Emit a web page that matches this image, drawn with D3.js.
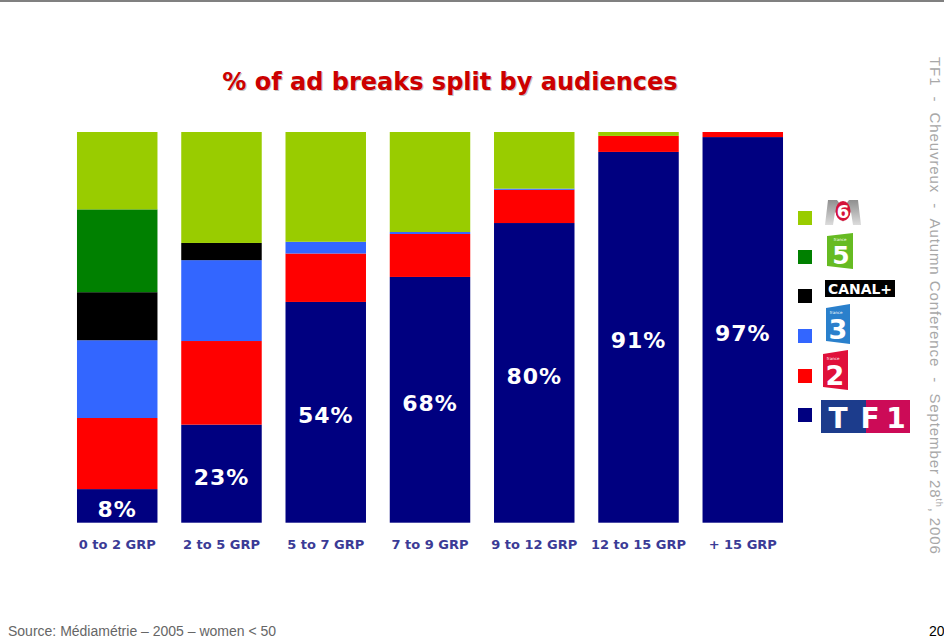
<!DOCTYPE html>
<html>
<head>
<meta charset="utf-8">
<script src="https://cdn.jsdelivr.net/npm/d3@7"></script>
<style>
  html, body { margin: 0; padding: 0; background: #fff; }
  svg { display: block; }
  text { white-space: pre; }
</style>
</head>
<body>
<svg id="chart" width="944" height="639"></svg>
<script>
// ---------- data ----------
const categories = ["0 to 2 GRP", "2 to 5 GRP", "5 to 7 GRP", "7 to 9 GRP", "9 to 12 GRP", "12 to 15 GRP", "+ 15 GRP"];
const tf1       = [8.6, 25.1, 56.5, 62.9, 76.7, 94.9, 98.7];
const france2   = [18.2, 21.4, 12.4, 11.0, 8.5, 4.1, 1.3];
const france3   = [19.9, 20.7, 3.0, 0.5, 0.3, 0, 0];
const canalPlus = [12.3, 4.4, 0, 0, 0, 0, 0];
const france5   = [21.2, 0, 0, 0, 0, 0, 0];
const m6        = [19.8, 28.4, 28.1, 25.6, 14.5, 1.0, 0];
const tf1Labels = ["8%", "23%", "54%", "68%", "80%", "91%", "97%"];
const seriesNames = ["TF1", "France 2", "France 3", "Canal+", "France 5", "M6"];
const seriesColors = ["#000080", "#ff0000", "#3366ff", "#000000", "#008000", "#99cc00"];
const title = "% of ad breaks split by audiences";
const sourceText = "Source: Médiamétrie – 2005 – women < 50";

// ---------- setup ----------
const svg = d3.select("#chart");
const seriesValues = [tf1, france2, france3, canalPlus, france5, m6];
const rows = categories.map((c, i) => {
  const r = { cat: c };
  seriesNames.forEach((s, k) => r[s] = seriesValues[k][i]);
  return r;
});
const stack = d3.stack().keys(seriesNames)(rows);

const x = d3.scaleBand().domain(categories).range([65.1, 794.9]).paddingInner(0.228).paddingOuter(0.114);
const y = d3.scaleLinear().domain([0, 100]).range([522.7, 132]);
const color = d3.scaleOrdinal().domain(seriesNames).range(seriesColors);

// top border
svg.append("rect").attr("x", 0).attr("y", 0).attr("width", 944).attr("height", 2).attr("fill", "#808080");

// title with shadow
const tt = svg.append("g").attr("font-family", "DejaVu Sans, Verdana, sans-serif").attr("font-weight", "bold")
  .attr("font-size", 24).attr("text-anchor", "middle");
tt.append("text").attr("x", 451).attr("y", 91).attr("fill", "#c4c4c4").text(title);
tt.append("text").attr("x", 450).attr("y", 90).attr("fill", "#cc0000").text(title);

// bars
const layers = svg.append("g").selectAll("g").data(stack).join("g")
  .attr("fill", d => color(d.key));
layers.selectAll("rect").data(d => d).join("rect")
  .attr("x", d => x(d.data.cat))
  .attr("width", x.bandwidth())
  .attr("y", d => y(d[1]))
  .attr("height", d => Math.max(0, y(d[0]) - y(d[1])));

// TF1 labels
svg.append("g").selectAll("text").data(stack[0]).join("text")
  .attr("x", d => x(d.data.cat) + x.bandwidth() / 2)
  .attr("y", d => (y(d[0]) + y(d[1])) / 2 + 3)
  .attr("dy", "0.36em")
  .attr("text-anchor", "middle")
  .attr("font-family", "DejaVu Sans, Verdana, sans-serif")
  .attr("font-weight", "bold").attr("font-size", 22).attr("letter-spacing", 1)
  .attr("fill", "#ffffff")
  .text((d, i) => tf1Labels[i]);

// category axis
const xAxis = svg.append("g").attr("transform", "translate(0,535)")
  .call(d3.axisBottom(x).tickSize(0).tickPadding(0));
xAxis.select(".domain").remove();
xAxis.selectAll("text")
  .attr("dy", "1.05em")
  .attr("font-family", "DejaVu Sans, Verdana, sans-serif")
  .attr("font-weight", "bold").attr("font-size", 13)
  .attr("fill", "#3b3b96");

// legend
const legY = [211, 250, 289, 329, 369, 408];
const leg = svg.append("g");
const legOrder = seriesNames.slice().reverse(); // M6 top ... TF1 bottom
legOrder.forEach((s, i) => {
  leg.append("rect").attr("x", 798).attr("y", legY[i]).attr("width", 14).attr("height", 14).attr("fill", color(s));
});

// --- logos ---
const logos = svg.append("g").attr("font-family", "DejaVu Sans, Verdana, sans-serif").attr("font-weight", "bold");
// M6
const mg = svg.append("defs").append("linearGradient").attr("id", "mgrad").attr("x1", 0).attr("y1", 0).attr("x2", 0).attr("y2", 1);
mg.append("stop").attr("offset", 0).attr("stop-color", "#8f8f8f");
mg.append("stop").attr("offset", 1).attr("stop-color", "#dcdcdc");
logos.append("path").attr("d", "M825,225 L828,200 L837,200 L843,208 L849,200 L858,200 L861,225 L853,225 L851,212 L843,222 L835,212 L833,225 Z")
  .attr("fill", "url(#mgrad)");
logos.append("ellipse").attr("cx", 843).attr("cy", 211).attr("rx", 7.5).attr("ry", 10).attr("fill", "#d4143a");
logos.append("text").attr("x", 843).attr("y", 218).attr("text-anchor", "middle").attr("font-size", 18).attr("fill", "#fff").text("6");
// France 5
logos.append("path").attr("d", "M827,236 L853,233 L853,269 L827,266 Z").attr("fill", "#66bb22");
logos.append("text").attr("x", 841).attr("y", 264).attr("text-anchor", "middle").attr("font-size", 25).attr("fill", "#fff").text("5");
logos.append("text").attr("x", 840).attr("y", 241).attr("text-anchor", "middle").attr("font-size", 4).attr("font-weight", "normal").attr("fill", "#fff").text("france");
// Canal+
logos.append("rect").attr("x", 825).attr("y", 280).attr("width", 70).attr("height", 17).attr("fill", "#000");
logos.append("text").attr("x", 860).attr("y", 294).attr("text-anchor", "middle").attr("font-size", 14).attr("fill", "#fff")
  .attr("textLength", 64).attr("lengthAdjust", "spacingAndGlyphs").text("CANAL+");
// France 3
logos.append("path").attr("d", "M826,308 L850,304 L850,344 L826,341 Z").attr("fill", "#2a80cc");
logos.append("text").attr("x", 838).attr("y", 339).attr("text-anchor", "middle").attr("font-size", 27).attr("fill", "#fff").text("3");
logos.append("text").attr("x", 836).attr("y", 314).attr("text-anchor", "middle").attr("font-size", 4).attr("font-weight", "normal").attr("fill", "#fff").text("france");
// France 2
logos.append("path").attr("d", "M823,354 L848,350 L848,390 L823,387 Z").attr("fill", "#e0103a");
logos.append("text").attr("x", 835).attr("y", 385).attr("text-anchor", "middle").attr("font-size", 27).attr("fill", "#fff").text("2");
logos.append("text").attr("x", 833).attr("y", 360).attr("text-anchor", "middle").attr("font-size", 4).attr("font-weight", "normal").attr("fill", "#fff").text("france");
// TF1
logos.append("rect").attr("x", 821).attr("y", 400).attr("width", 45).attr("height", 33).attr("fill", "#1c3c8c");
logos.append("rect").attr("x", 866).attr("y", 400).attr("width", 44).attr("height", 33).attr("fill", "#cc0b57");
logos.append("text").attr("x", 838).attr("y", 428).attr("text-anchor", "middle").attr("font-size", 28).attr("fill", "#fff").text("T");
logos.append("text").attr("x", 870).attr("y", 428).attr("text-anchor", "middle").attr("font-size", 28).attr("fill", "#fff").text("F");
logos.append("text").attr("x", 896).attr("y", 428).attr("text-anchor", "middle").attr("font-size", 28).attr("fill", "#fff").text("1");

// vertical side text
const vt = svg.append("text").attr("transform", "translate(930,57) rotate(90)")
  .attr("font-family", "Liberation Sans, Arial, sans-serif").attr("font-size", 15).attr("letter-spacing", 0.9).attr("fill", "#a8a8a8");
vt.append("tspan").text("TF1  -  Cheuvreux  -  Autumn Conference  -  September 28");
vt.append("tspan").attr("font-size", 9).attr("dy", -6).text("th");
vt.append("tspan").attr("dy", 6).text(", 2006");

// footer
svg.append("text").attr("x", 8).attr("y", 636)
  .attr("font-family", "Liberation Sans, Arial, sans-serif").attr("font-size", 14).attr("fill", "#666")
  .text(sourceText);
svg.append("text").attr("x", 929).attr("y", 636)
  .attr("font-family", "Liberation Sans, Arial, sans-serif").attr("font-size", 14).attr("fill", "#000")
  .text("20");
</script>
</body>
</html>
